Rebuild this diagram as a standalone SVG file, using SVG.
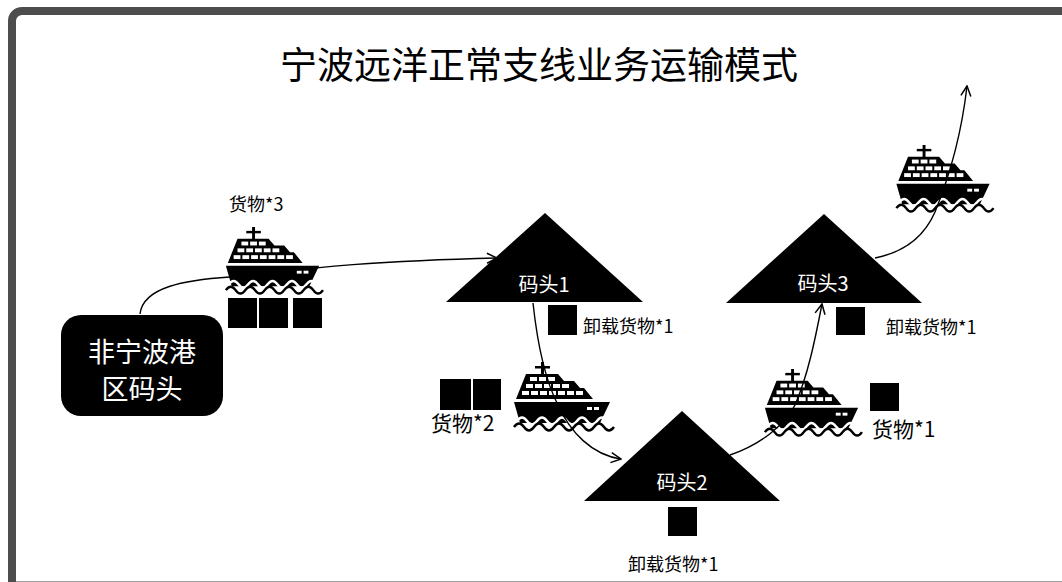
<svg xmlns="http://www.w3.org/2000/svg" xmlns:xlink="http://www.w3.org/1999/xlink" width="1062" height="582" viewBox="0 0 1062 582">
<style>
  .cjk { font-family: "Noto Sans CJK SC", "Liberation Sans", sans-serif; }
  .title { font-family: "Noto Sans CJK SC", sans-serif; font-size: 37px; fill: #000; }
  .lbl { font-family: "Noto Sans CJK SC", "Liberation Sans", sans-serif; font-size: 18px; fill: #000; }
  .lbl2 { font-family: "Noto Sans CJK SC", "Liberation Sans", sans-serif; font-size: 21px; fill: #000; }
  .wlbl { font-family: "Noto Sans CJK SC", "Liberation Sans", sans-serif; font-size: 20px; fill: #fff; text-anchor: middle; }
  .box { fill: #000; }
  .conn { fill: none; stroke: #000; stroke-width: 1.4; marker-end: url(#arr); }
</style>
<defs>
  <marker id="arr" viewBox="0 0 12 12" refX="11" refY="6" markerWidth="12" markerHeight="12" markerUnits="userSpaceOnUse" orient="auto">
    <path d="M1,1 L11,6 L1,11" fill="none" stroke="#000" stroke-width="1.5"/>
  </marker>
  <symbol id="ship" viewBox="0 0 96 70" overflow="visible">
    <rect x="27" y="0" width="3" height="14" fill="#000"/>
    <rect x="21" y="4" width="15" height="2.5" fill="#000"/>
    <polygon points="12,12 44,12 50,19 60,19 66,26 70,26 79,37 2,37" fill="#000"/>
    <g fill="#fff">
      <rect x="16" y="15" width="7" height="4"/><rect x="25" y="15" width="7" height="4"/><rect x="34" y="15" width="7" height="4"/>
      <rect x="12" y="22" width="7" height="4"/><rect x="21" y="22" width="7" height="4"/><rect x="30" y="22" width="7" height="4"/><rect x="39" y="22" width="7" height="4"/><rect x="48" y="22" width="7" height="4"/>
      <rect x="8" y="29" width="7" height="4"/><rect x="17" y="29" width="7" height="4"/><rect x="26" y="29" width="7" height="4"/><rect x="35" y="29" width="7" height="4"/><rect x="44" y="29" width="7" height="4"/><rect x="53" y="29" width="7" height="4"/><rect x="62" y="29" width="7" height="4"/>
    </g>
    <polygon points="0,40 96,40 86,61 6,61" fill="#000"/>
    <rect x="73" y="45" width="5" height="3" fill="#fff"/>
    <rect x="80" y="45" width="5" height="3" fill="#fff"/>
    <path d="M3,59 q5,-7 10,0 t10,0 t10,0 t10,0 t10,0 t10,0 t10,0 t10,0 t10,0" fill="none" stroke="#fff" stroke-width="2.5"/>
    <path d="M0,65 q5,-7 10,0 t10,0 t10,0 t10,0 t10,0 t10,0 t10,0 t10,0 t10,0 t10,0" fill="none" stroke="#000" stroke-width="2.5"/>
  </symbol>
</defs>
<rect x="0" y="0" width="1062" height="582" fill="#fff"/>
<rect id="frame" x="12" y="11" width="1080" height="600" rx="10" ry="10" fill="#fff" stroke="#4d4d4d" stroke-width="8"/>
<line x1="16" y1="581.5" x2="1062" y2="581.5" stroke="#a0a0a0" stroke-width="1"/>

<g id="title">
  <text class="title" x="539" y="79" text-anchor="middle">宁波远洋正常支线业务运输模式</text>
</g>

<g id="source">
  <rect x="61" y="315" width="162" height="101" rx="20" ry="20" fill="#000"/>
  <text class="cjk" x="142" y="362" font-size="27" fill="#fff" text-anchor="middle">非宁波港</text>
  <text class="cjk" x="142" y="399" font-size="27" fill="#fff" text-anchor="middle">区码头</text>
</g>

<g id="dock1">
  <polygon points="545,213 643,302 446,302" fill="#000"/>
  <text class="wlbl" x="544" y="292">码头1</text>
</g>
<g id="dock2">
  <polygon points="682,411 780,501 584,501" fill="#000"/>
  <text class="wlbl" x="682" y="490">码头2</text>
</g>
<g id="dock3">
  <polygon points="824,214 922,303 726,303" fill="#000"/>
  <text class="wlbl" x="823" y="291">码头3</text>
</g>

<g id="cargo3">
  <text class="lbl" x="229" y="211" font-size="19">货物*3</text>
  <rect class="box" x="228" y="298" width="29" height="30"/>
  <rect class="box" x="259" y="298" width="29" height="30"/>
  <rect class="box" x="293" y="298" width="29" height="30"/>
</g>
<g id="unload1">
  <rect class="box" x="548" y="305" width="29" height="30"/>
  <text class="lbl" x="583" y="333">卸载货物*1</text>
</g>
<g id="cargo2">
  <rect class="box" x="440" y="379" width="31" height="31"/>
  <rect class="box" x="473" y="379" width="28" height="31"/>
  <text class="lbl2" x="431" y="431">货物*2</text>
</g>
<g id="unload2">
  <rect class="box" x="668" y="507" width="29" height="29"/>
  <text class="lbl" x="628" y="571">卸载货物*1</text>
</g>
<g id="cargo1">
  <rect class="box" x="870" y="383" width="29" height="28"/>
  <text class="lbl2" x="872" y="437">货物*1</text>
</g>
<g id="unload3">
  <rect class="box" x="836" y="307" width="29" height="28"/>
  <text class="lbl" x="886" y="334" font-size="19">卸载货物*1</text>
</g>

<g id="ship1"><use xlink:href="#ship" href="#ship" x="223" y="227" width="99" height="68"/></g>
<g id="ship2"><use xlink:href="#ship" href="#ship" x="514" y="362" width="96" height="70"/></g>
<g id="ship3"><use xlink:href="#ship" href="#ship" x="764" y="369" width="95" height="68"/></g>
<g id="ship4"><use xlink:href="#ship" href="#ship" x="894" y="145" width="98" height="68"/></g>

<g id="connectors">
  <path class="conn" d="M140,314 C143,287 185,280 230,277 C280,273 330,262 497,258"/>
  <path class="conn" d="M533,303 C537,340 545,380 558,405 C570,432 592,455 621,459"/>
  <path class="conn" d="M730,455 C760,445 785,425 795,405 C808,375 815,340 822,304"/>
  <path class="conn" d="M875,258 C905,252 925,235 935,212 C950,175 962,130 967,86"/>
</g>
</svg>
